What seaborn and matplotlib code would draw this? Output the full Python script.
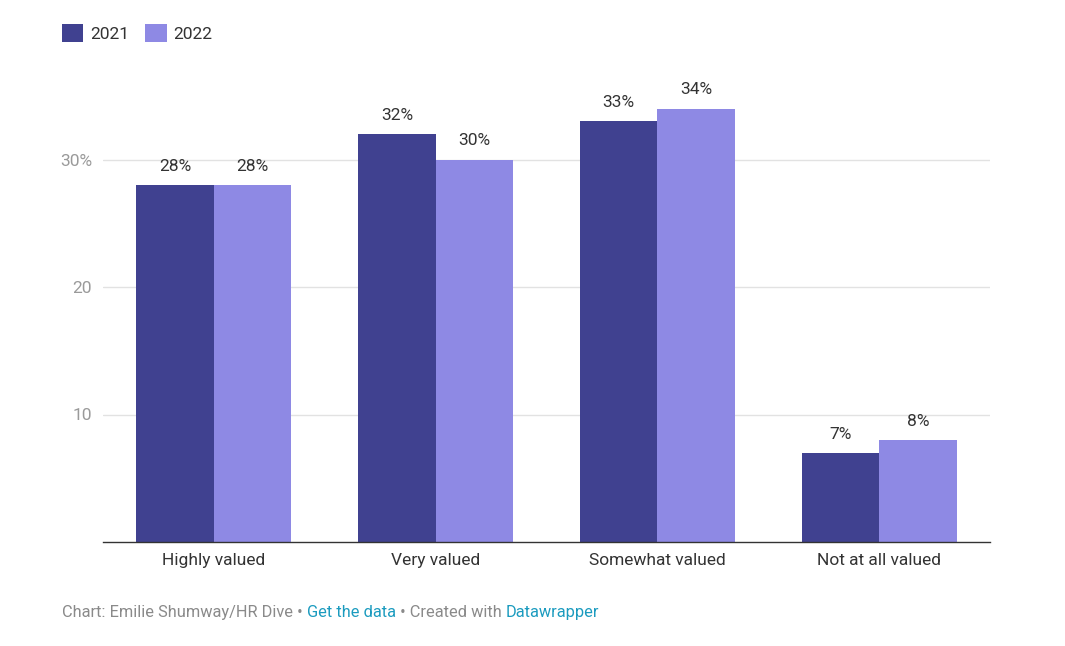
import pandas as pd
import matplotlib.pyplot as plt
import seaborn as sns

categories = ['Highly valued', 'Very valued', 'Somewhat valued', 'Not at all valued']
years = ['2021', '2022']
values_2021 = [28, 32, 33, 7]
values_2022 = [28, 30, 34, 8]
ytick_vals = [10, 20, 30]
ytick_labels = ['10', '20', '30%']

df = pd.DataFrame({
    'category': categories * 2,
    'year': ['2021'] * 4 + ['2022'] * 4,
    'value': values_2021 + values_2022,
})

sns.set_style('white')
plt.rcParams['font.family'] = ['Roboto', 'DejaVu Sans']

colors = {'2021': '#404190', '2022': '#8e89e4'}

fig = plt.figure(figsize=(10.65, 6.46), dpi=100)
ax = fig.add_axes([103 / 1065, 1 - 542 / 646, (990 - 103) / 1065, (542 - 83) / 646])

sns.barplot(data=df, x='category', y='value', hue='year', order=categories,
            hue_order=years, palette=colors, width=0.7, saturation=1,
            edgecolor='none', linewidth=0, ax=ax, legend=True)

ax.set_ylim(0, 36)
ax.set_xlim(-0.5, 3.5)
ax.set_yticks(ytick_vals)
ax.set_yticklabels(ytick_labels)
ax.tick_params(axis='y', length=0, pad=8, labelsize=12.5, labelcolor='#9a9a9a')
ax.tick_params(axis='x', length=0, pad=8, labelsize=12.5, labelcolor='#333333')
ax.grid(axis='y', color='#e2e2e2', linewidth=1)
ax.set_axisbelow(True)
for s in ['top', 'right', 'left']:
    ax.spines[s].set_visible(False)
ax.spines['bottom'].set_color('#333333')
ax.spines['bottom'].set_linewidth(1)
ax.set_xlabel('')
ax.set_ylabel('')

for cont in ax.containers:
    ax.bar_label(cont, labels=[f'{int(v)}%' for v in cont.datavalues],
                 padding=8, fontsize=12.5, color='#333333')

handles, labels = ax.get_legend_handles_labels()
ax.legend(handles, labels, loc='upper left', bbox_to_anchor=(46 / 1065, 1 - 8 / 646),
          bbox_transform=fig.transFigure, ncol=2, frameon=False, fontsize=12.5,
          handlelength=1.25, handleheight=1.25, handletextpad=0.4, columnspacing=0.9,
          labelcolor='#333333')

# footer with coloured links
parts = [('Chart: Emilie Shumway/HR Dive • ', '#8a8a8a'),
         ('Get the data', '#1b9bbf'),
         (' • Created with ', '#8a8a8a'),
         ('Datawrapper', '#1b9bbf')]
fig.canvas.draw()
renderer = fig.canvas.get_renderer()
x = 62 / 1065
for txt, col in parts:
    t = fig.text(x, 1 - 617 / 646, txt, color=col, fontsize=11.8, va='baseline', ha='left')
    bb = t.get_window_extent(renderer=renderer)
    x += bb.width / fig.bbox.width

fig.savefig('out.png', dpi=100, facecolor='white')
